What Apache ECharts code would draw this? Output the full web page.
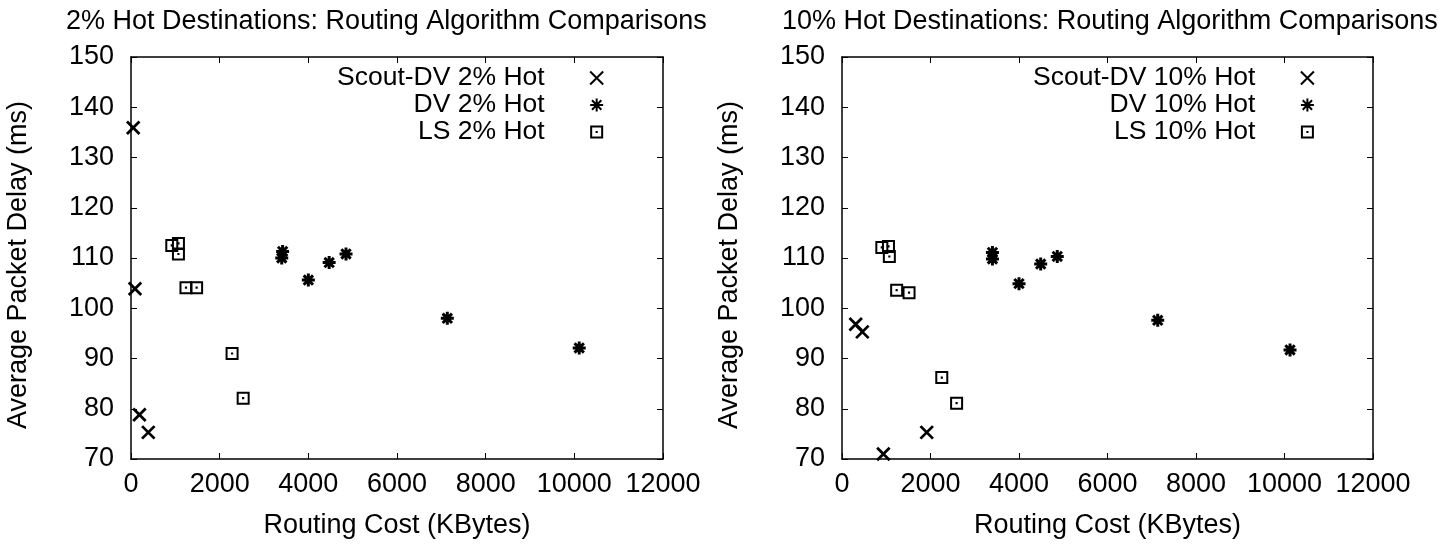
<!DOCTYPE html>
<html>
<head>
<meta charset="utf-8" />
<title>Routing Algorithm Comparisons</title>
<script src="https://cdn.jsdelivr.net/npm/echarts@6/dist/echarts.min.js"></script>
<style>
html, body { margin: 0; padding: 0; background: #fff; }
#chart { width: 1450px; height: 544px; }
</style>
</head>
<body>
<div id="chart"></div>
<script type="text/javascript">
// 2% hot destinations: [routing cost KB, delay ms]
var scoutDV2 = [[50, 135.9], [90, 103.9], [190, 78.8], [390, 75.3]];
var dv2 = [[3400, 110.0], [3420, 111.3], [4000, 105.6], [4470, 109.1], [4850, 110.8], [7135, 98.0], [10110, 92.1]];
var ls2 = [[920, 112.5], [1070, 112.9], [1070, 110.8], [1240, 104.1], [1480, 104.1], [2280, 91.0], [2530, 82.1]];

// 10% hot destinations
var scoutDV10 = [[310, 96.8], [460, 95.3], [935, 71.0], [1915, 75.3]];
var dv10 = [[3400, 109.8], [3400, 111.1], [4000, 104.9], [4490, 108.8], [4865, 110.3], [7135, 97.6], [10125, 91.7]];
var ls10 = [[900, 112.1], [1050, 112.3], [1070, 110.3], [1235, 103.6], [1515, 103.1], [2255, 86.2], [2590, 81.1]];

var titles = ['2% Hot Destinations: Routing Algorithm Comparisons', '10% Hot Destinations: Routing Algorithm Comparisons'];
var names2 = ['Scout-DV 2% Hot', 'DV 2% Hot', 'LS 2% Hot'];
var names10 = ['Scout-DV 10% Hot', 'DV 10% Hot', 'LS 10% Hot'];
var xName = 'Routing Cost (KBytes)';
var yName = 'Average Packet Delay (ms)';

var FONT = "'Liberation Sans', Arial, Helvetica, sans-serif";
var FS = 27;

// gnuplot-like point types
var symCross = 'path://M0,0L10,10M10,0L0,10';
var symStar = 'path://M0,5L10,5M5,0L5,10M1.4,1.4L8.6,8.6M8.6,1.4L1.4,8.6';
var symBox = 'path://M0,0L13,0L13,13L0,13Z M2,2L2,11L11,11L11,2Z M5.4,5.4L7.6,5.4L7.6,7.6L5.4,7.6Z';

function plain(v) {
	return String(v);
}

function xAx(grid, pos) {
	return {
		type : 'value', gridIndex : grid, position : pos,
		min : 0, max : 12000, interval : 2000,
		name : pos == 'bottom' ? xName : '',
		nameLocation : 'middle', nameGap : 53,
		nameTextStyle : { fontFamily : FONT, fontSize : FS, color : '#000' },
		axisLine : { show : true, onZero : false, lineStyle : { color : '#000', width : 1.5 } },
		axisTick : { show : true, inside : true, length : 6, lineStyle : { color : '#000', width : 1 } },
		axisLabel : { show : pos == 'bottom', margin : 12, formatter : plain, fontFamily : FONT, fontSize : FS, color : '#000' },
		splitLine : { show : false }
	};
}

function yAx(grid, pos) {
	return {
		type : 'value', gridIndex : grid, position : pos,
		min : 70, max : 150, interval : 10,
		name : pos == 'left' ? yName : '',
		nameLocation : 'middle', nameGap : 99,
		nameTextStyle : { fontFamily : FONT, fontSize : FS, color : '#000', padding : [0, 14, 0, 0] },
		axisLine : { show : true, onZero : false, lineStyle : { color : '#000', width : 1.5 } },
		axisTick : { show : true, inside : true, length : 6, lineStyle : { color : '#000', width : 1 } },
		axisLabel : { show : pos == 'left', margin : 17, formatter : plain, fontFamily : FONT, fontSize : FS, color : '#000' },
		splitLine : { show : false }
	};
}

function pts(name, data, sym, size, ax, stroke) {
	return {
		name : name, type : 'scatter', xAxisIndex : ax, yAxisIndex : ax,
		data : data, symbol : sym, symbolSize : size,
		itemStyle : { color : '#000', borderColor : '#000', borderWidth : stroke, opacity : 1 },
		emphasis : { disabled : true }
	};
}

function legendFor(names, left, iconW) {
	return {
		data : names, orient : 'vertical', align : 'right',
		left : left, top : 64.5, padding : 0,
		itemWidth : iconW, itemHeight : 13, itemGap : 0,
		textStyle : { fontFamily : FONT, fontSize : 26.5, lineHeight : 25.5, color : '#000' },
		selectedMode : false
	};
}

var myChart = echarts.init(document.getElementById('chart'));
myChart.setOption({
	animation : false,
	backgroundColor : '#fff',
	title : [ {
		text : titles[0], left : 66, top : 8, padding : 0,
		textStyle : { fontFamily : FONT, fontSize : FS, fontWeight : 'normal', color : '#000' }
	}, {
		text : titles[1], left : 782, top : 8, padding : 0,
		textStyle : { fontFamily : FONT, fontSize : FS, fontWeight : 'normal', color : '#000' }
	} ],
	legend : [ legendFor(names2, 337, 94), legendFor(names10, 1033, 94) ],
	grid : [
		{ left : 131, top : 57, width : 532, height : 403 },
		{ left : 842, top : 57, width : 531, height : 403 }
	],
	xAxis : [ xAx(0, 'bottom'), xAx(0, 'top'), xAx(1, 'bottom'), xAx(1, 'top') ],
	yAxis : [ yAx(0, 'left'), yAx(0, 'right'), yAx(1, 'left'), yAx(1, 'right') ],
	series : [
		pts(names2[0], scoutDV2, symCross, 12.5, 0, 2.8),
		pts(names2[1], dv2, symStar, 13, 0, 3),
		pts(names2[2], ls2, symBox, 13, 0, 0),
		pts(names10[0], scoutDV10, symCross, 12.5, 2, 2.8),
		pts(names10[1], dv10, symStar, 13, 2, 3),
		pts(names10[2], ls10, symBox, 13, 2, 0)
	]
});
</script>
</body>
</html>
